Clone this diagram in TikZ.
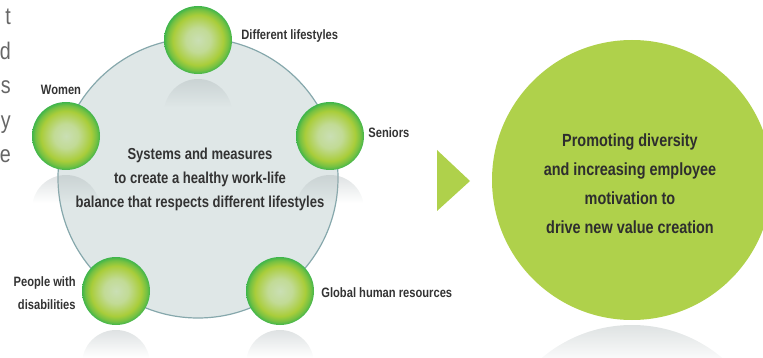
\documentclass[tikz,border=0pt]{standalone}
\usepackage{fontspec}
\setmainfont{Liberation Sans}[FakeStretch=0.82]
\usetikzlibrary{positioning,fadings}

\definecolor{ballc}{HTML}{CADFB4}
\definecolor{ballm}{HTML}{A9CD3A}
\definecolor{balle}{HTML}{3FB54B}
\definecolor{hubfill}{HTML}{DFE7E7}
\definecolor{hubline}{HTML}{86A8AC}
\definecolor{goalgreen}{HTML}{AFD14B}
\definecolor{labelgray}{HTML}{333333}
\definecolor{fraggray}{HTML}{666666}
\definecolor{reflgray}{HTML}{A9B3B4}

\pgfdeclareradialshading{greenball}{\pgfpointorigin}{%
  color(0bp)=(ballc); color(9bp)=(ballc!75!ballm); color(18.5bp)=(ballm);
  color(22.5bp)=(ballm!50!balle); color(25bp)=(balle); color(50bp)=(balle)}
\tikzfading[name=fadedown, top color=transparent!62, bottom color=transparent!100]

% mirrored sphere below a ball: x, y, radius, visible depth
\newcommand\ballreflection[4]{%
  \begin{scope}
    \clip (#1,#2+2*#3+5) circle (#3);
    \fill[reflgray, path fading=fadedown]
      (#1-#3,#2+#3+5) rectangle (#1+#3,#2+#3+5+#4);
  \end{scope}}

\begin{document}
\begin{tikzpicture}[
  x=1pt, y=-1pt,
  green ball/.style={
    circle,
    minimum size=68pt,
    inner sep=0pt,
    shading=greenball
  },
  ball label/.style={
    font=\fontsize{13.6}{23}\selectfont\bfseries,
    text=labelgray,
    inner sep=0pt
  },
  hub text/.style={
    font=\fontsize{15.9}{24}\selectfont\bfseries,
    text=labelgray,
    align=center
  },
  goal text/.style={
    font=\fontsize{17.6}{29}\selectfont\bfseries,
    text=labelgray!90!black,
    align=center
  },
]
\useasboundingbox (0,0) rectangle (763,358);

\foreach \t [count=\i] in {t,d,s,y,e}
  \node[anchor=base east, inner sep=0pt, text=fraggray,
        font=\fontsize{24}{24}\selectfont] (frag\i) at (11,25+34.5*\i-34.5) {\t};

\fill[hubfill, draw=hubline, line width=1.2pt] (198,178) circle (140);

\ballreflection{198}{40}{34}{28}
\ballreflection{66}{136}{34}{28}
\ballreflection{330}{136}{34}{28}
\ballreflection{116}{291}{34}{28}
\ballreflection{280}{291}{34}{28}

\node[green ball] (lifestyles) at (198,40) {};
\node[green ball] (women) at (66,136) {};
\node[green ball] (seniors) at (330,136) {};
\node[green ball] (disabled) at (116,291) {};
\node[green ball] (global) at (280,291) {};

\node[ball label, right=9pt of lifestyles, yshift=4pt] {Different lifestyles};
\node[ball label, above=7pt of women, xshift=-5pt] {Women};
\node[ball label, right=4pt of seniors, yshift=3pt] {Seniors};
\node[ball label, left=6pt of disabled, yshift=-2pt, align=right] {People with\\disabilities};
\node[ball label, right=7pt of global, yshift=-2pt] {Global human resources};

\node[hub text] (hub) at (200,179)
  {Systems and measures\\to create a healthy work-life\\balance that respects different lifestyles};

\fill[goalgreen] (437,150) -- (437,211) -- (470,181) -- cycle;

\ballreflection{632}{180}{140}{40}
\node[circle, fill=goalgreen, minimum size=280pt, inner sep=0pt] (goal) at (632,180) {};
\node[goal text] at (630,184)
  {Promoting diversity\\and increasing employee\\motivation to\\drive new value creation};
\end{tikzpicture}
\end{document}
